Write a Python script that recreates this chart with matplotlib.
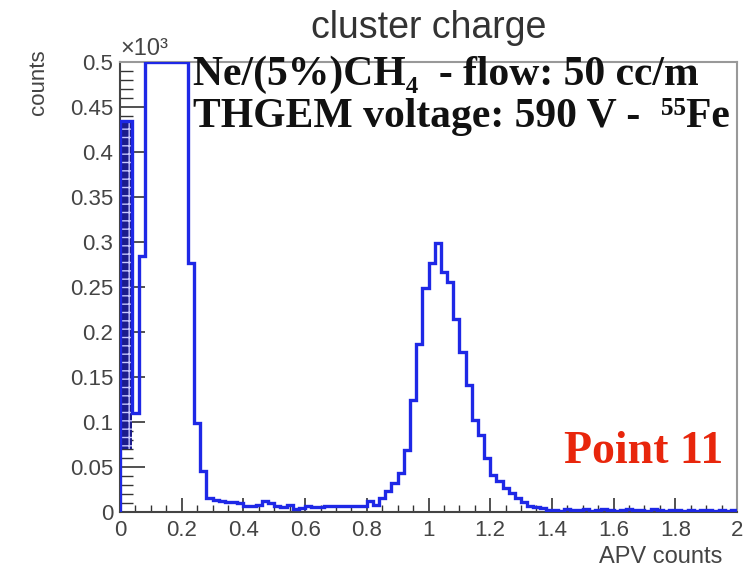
"""
cluster_charge.py - cluster charge spectrum, Ne/(5%)CH4, THGEM 590 V, 55Fe (Point 11)
"""

import numpy as np
import matplotlib.pyplot as plt
from matplotlib.ticker import MultipleLocator

# histogram: 100 bins of 0.02 between 0 and 2 (APV counts), contents in units of 10^3
bin_edges = np.linspace(0, 2, 101)
counts = [
    0.435, 0.435, 0.110, 0.285, 0.500, 0.500, 0.500, 0.500, 0.500, 0.500,
    0.500, 0.277, 0.099, 0.045, 0.016, 0.013, 0.012, 0.011, 0.011, 0.010,
    0.007, 0.007, 0.008, 0.012, 0.010, 0.007, 0.005, 0.008, 0.003, 0.004,
    0.007, 0.006, 0.006, 0.007, 0.007, 0.007, 0.007, 0.007, 0.007, 0.007,
    0.012, 0.008, 0.015, 0.023, 0.032, 0.043, 0.069, 0.124, 0.187, 0.249,
    0.277, 0.299, 0.267, 0.256, 0.215, 0.178, 0.141, 0.102, 0.086, 0.060,
    0.041, 0.034, 0.027, 0.021, 0.015, 0.011, 0.007, 0.006, 0.004, 0.002,
    0.002, 0.001, 0.003, 0.002, 0.002, 0.003, 0.001, 0.002, 0.003, 0.002,
    0.001, 0.002, 0.003, 0.002, 0.002, 0.001, 0.003, 0.002, 0.001, 0.002,
    0.002, 0.001, 0.002, 0.001, 0.002, 0.002, 0.001, 0.002, 0.001, 0.002,
]

# dense pedestal region drawn as a dark hatched block
pedestal_x = [0.0, 0.04]
pedestal_lo = 0.07
pedestal_hi = 0.435

line1 = "Ne/(5%)CH\u2084  - flow: 50 cc/m"
line2 = "THGEM voltage: 590 V -  \u2075\u2075Fe"

fig = plt.figure(figsize=(7.49, 5.72), dpi=100)
ax = fig.add_axes([0.1602, 0.1049, 0.8238, 0.7867])

ax.fill_between(pedestal_x, pedestal_lo, pedestal_hi, facecolor="#1c1c8c",
                edgecolor="#c8c8ff", hatch="++", linewidth=0, zorder=2)
ax.stairs(counts, bin_edges, color="#1e28e6", linewidth=2.4, zorder=3)

ax.set_xlim(0, 2)
ax.set_ylim(0, 0.5)
ax.xaxis.set_minor_locator(MultipleLocator(0.05))
ax.yaxis.set_minor_locator(MultipleLocator(0.01))
ax.set_xticks(np.arange(0, 2.01, 0.2))
ax.set_xticklabels(["0", "0.2", "0.4", "0.6", "0.8", "1", "1.2", "1.4", "1.6", "1.8", "2"])
ax.set_yticks(np.arange(0, 0.501, 0.05))
ax.set_yticklabels(["0", "0.05", "0.1", "0.15", "0.2", "0.25", "0.3", "0.35", "0.4", "0.45", "0.5"])

ax.tick_params(axis="both", which="both", direction="in", colors="#333333",
               labelcolor="#444444", labelsize=16, top=False, right=False)
ax.tick_params(axis="y", which="major", length=18, width=1.2, pad=5)
ax.tick_params(axis="y", which="minor", length=9, width=1.0)
ax.tick_params(axis="x", which="major", length=10, width=1.2, pad=6)
ax.tick_params(axis="x", which="minor", length=5, width=1.0)
for lab in ax.get_xticklabels() + ax.get_yticklabels():
    lab.set_family("Liberation Sans")

for side in ["left", "bottom"]:
    ax.spines[side].set_color("#444444")
    ax.spines[side].set_linewidth(1.5)
for side in ["top", "right"]:
    ax.spines[side].set_color("#999999")
    ax.spines[side].set_linewidth(1.5)

ax.set_title("cluster charge", fontsize=27, family="Liberation Sans",
             color="#333333", pad=17)
ax.set_ylabel("counts", fontsize=16, family="Liberation Sans", color="#444444",
              loc="top")
ax.yaxis.set_label_coords(-0.115, 1.027)
ax.set_xlabel("APV counts", fontsize=17, family="Liberation Sans", color="#444444",
              loc="right")
ax.xaxis.set_label_coords(0.977, -0.076)
ax.text(0.0, 1.005, "\u00d710\u00b3", transform=ax.transAxes, fontsize=17,
        family="Liberation Sans", color="#444444", va="bottom", ha="left")

ax.text(0.118, 0.972, line1, transform=ax.transAxes, fontsize=30, fontweight="bold",
        family=["Liberation Serif", "DejaVu Serif"], va="center", ha="left", color="#111111")
ax.text(0.118, 0.878, line2, transform=ax.transAxes, fontsize=30, fontweight="bold",
        family=["Liberation Serif", "DejaVu Serif"], va="center", ha="left", color="#111111")
ax.text(0.977, 0.133, "Point 11", transform=ax.transAxes, fontsize=33, fontweight="bold",
        family="Liberation Serif", va="center", ha="right", color="#e8260c")

fig.savefig("out.png", dpi=100)
